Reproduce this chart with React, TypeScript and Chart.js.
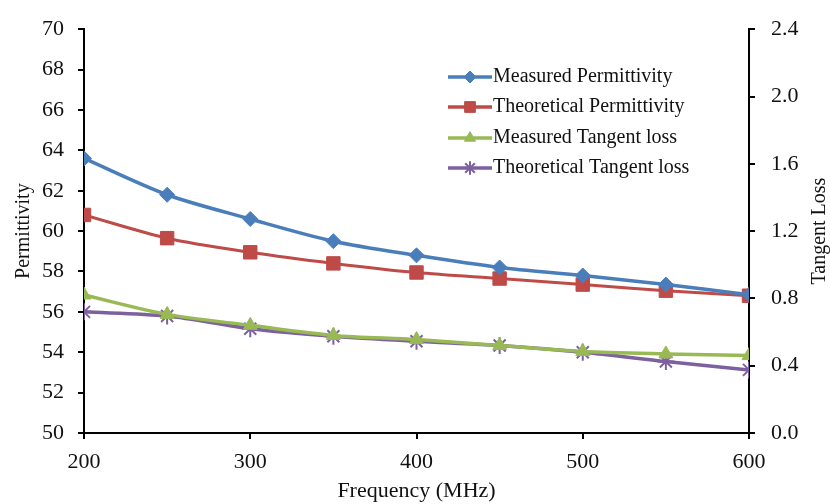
import React, { useEffect, useRef } from 'react';
import { Chart, registerables } from 'chart.js';
import { drawPoint } from 'chart.js/helpers';

Chart.register(...registerables);

const frequencies = [200, 250, 300, 350, 400, 450, 500, 550, 600];
const measuredPermittivity = [63.6, 61.8, 60.6, 59.5, 58.8, 58.2, 57.8, 57.35, 56.85];
const theoreticalPermittivity = [60.8, 59.65, 58.95, 58.4, 57.95, 57.65, 57.35, 57.05, 56.8];
const measuredTangentLoss = [0.82, 0.705, 0.64, 0.58, 0.555, 0.52, 0.485, 0.47, 0.46];
const theoreticalTangentLoss = [0.72, 0.695, 0.62, 0.575, 0.545, 0.52, 0.48, 0.425, 0.375];

const seriesLabels = [
  'Measured Permittivity',
  'Theoretical Permittivity',
  'Measured Tangent loss',
  'Theoretical Tangent loss',
];
const xTitle = 'Frequency (MHz)';
const yTitle = 'Permittivity';
const y2Title = 'Tangent Loss';

const FONT = "'Liberation Serif', 'Times New Roman', serif";
const TEXT = '#111111';

const toPoints = (vals: number[]) => frequencies.map((x, i) => ({ x, y: vals[i] }));

const overlayPlugin = {
  id: 'overlay',
  afterDraw(chart: any) {
    const ctx = chart.ctx;
    const area = chart.chartArea;
    ctx.save();
    ctx.fillStyle = TEXT;
    // x title
    ctx.font = `22px ${FONT}`;
    ctx.textAlign = 'center';
    ctx.textBaseline = 'middle';
    ctx.fillText(xTitle, (area.left + area.right) / 2, 491);
    // left title
    ctx.font = `20px ${FONT}`;
    ctx.save();
    ctx.translate(24, (area.top + area.bottom) / 2);
    ctx.rotate(-Math.PI / 2);
    ctx.fillText(yTitle, 0, 0);
    ctx.restore();
    // right title
    ctx.save();
    ctx.translate(820, (area.top + area.bottom) / 2);
    ctx.rotate(-Math.PI / 2);
    ctx.fillText(y2Title, 0, 0);
    ctx.restore();

    // legend
    const x0 = 448;
    const x1 = 492;
    const rowY = [77, 107, 138, 168];
    chart.data.datasets.forEach((ds: any, i: number) => {
      const y = rowY[i];
      ctx.strokeStyle = ds.borderColor;
      ctx.lineWidth = 3.5;
      ctx.beginPath();
      ctx.moveTo(x0, y);
      ctx.lineTo(x1, y);
      ctx.stroke();
      ctx.fillStyle = ds.backgroundColor;
      ctx.strokeStyle = ds.borderColor;
      ctx.lineWidth = ds.pointBorderWidth || 1;
      drawPoint(ctx, { pointStyle: ds.pointStyle, rotation: 0, borderWidth: ds.pointBorderWidth || 1, radius: ds.pointRadius * 0.8 }, (x0 + x1) / 2, y);
      ctx.fillStyle = TEXT;
      ctx.font = `20px ${FONT}`;
      ctx.textAlign = 'left';
      ctx.textBaseline = 'middle';
      ctx.fillText(ds.label, x1 + 1, y);
    });
    ctx.restore();
  },
};

export default function App() {
  const ref = useRef<HTMLCanvasElement>(null);
  useEffect(() => {
    if (!ref.current) return;
    const axisCommon = {
      grid: { drawOnChartArea: false, tickLength: 6, color: '#000', lineWidth: 2, tickWidth: 2, tickColor: '#000' },
      border: { color: '#000', width: 2 },
    };
    const chart = new Chart(ref.current, {
      type: 'line',
      data: {
        datasets: [
          {
            label: seriesLabels[0],
            data: toPoints(measuredPermittivity),
            yAxisID: 'y',
            borderColor: '#4A7EBB',
            backgroundColor: '#4A7EBB',
            pointStyle: 'rectRot',
            pointRadius: 7.5,
            pointBorderWidth: 1,
            borderWidth: 3.5,
            tension: 0.3,
          },
          {
            label: seriesLabels[1],
            data: toPoints(theoreticalPermittivity),
            yAxisID: 'y',
            borderColor: '#BE4B48',
            backgroundColor: '#BE4B48',
            pointStyle: 'rect',
            pointRadius: 9.5,
            pointBorderWidth: 1,
            borderWidth: 3,
            tension: 0.3,
          },
          {
            label: seriesLabels[2],
            data: toPoints(measuredTangentLoss),
            yAxisID: 'y2',
            borderColor: '#98B954',
            backgroundColor: '#98B954',
            pointStyle: 'triangle',
            pointRadius: 8,
            pointBorderWidth: 1,
            borderWidth: 3.5,
            tension: 0.3,
          },
          {
            label: seriesLabels[3],
            data: toPoints(theoreticalTangentLoss),
            yAxisID: 'y2',
            borderColor: '#7D60A0',
            backgroundColor: '#7D60A0',
            pointStyle: 'star',
            pointRadius: 8.5,
            pointBorderWidth: 2,
            borderWidth: 3.5,
            tension: 0.3,
          },
        ],
      },
      options: {
        responsive: false,
        animation: false,
        layout: { padding: { top: 20, left: 0, right: 0, bottom: 0 } },
        plugins: { legend: { display: false }, tooltip: { enabled: false } },
        scales: {
          x: {
            type: 'linear',
            min: 200,
            max: 600,
            ticks: { stepSize: 100, font: { family: FONT, size: 22 }, color: TEXT, padding: 10 },
            ...axisCommon,
            afterFit: (s: any) => { s.height = 71; },
          },
          y: {
            position: 'left',
            min: 50,
            max: 70,
            ticks: { stepSize: 2, font: { family: FONT, size: 22 }, color: TEXT, padding: 14 },
            ...axisCommon,
            afterFit: (s: any) => { s.width = 84; },
          },
          y2: {
            position: 'right',
            min: 0,
            max: 2.4,
            ticks: {
              stepSize: 0.4,
              font: { family: FONT, size: 22 },
              color: TEXT,
              padding: 16,
              callback: (v: any) => Number(v).toFixed(1),
            },
            ...axisCommon,
            afterFit: (s: any) => { s.width = 81; },
          },
        },
      } as any,
      plugins: [overlayPlugin],
    });
    return () => chart.destroy();
  }, []);
  return (
    <div style={{ position: 'absolute', left: 0, top: 0, width: 830, height: 504, background: '#fff' }}>
      <canvas ref={ref} width={830} height={504} />
    </div>
  );
}
